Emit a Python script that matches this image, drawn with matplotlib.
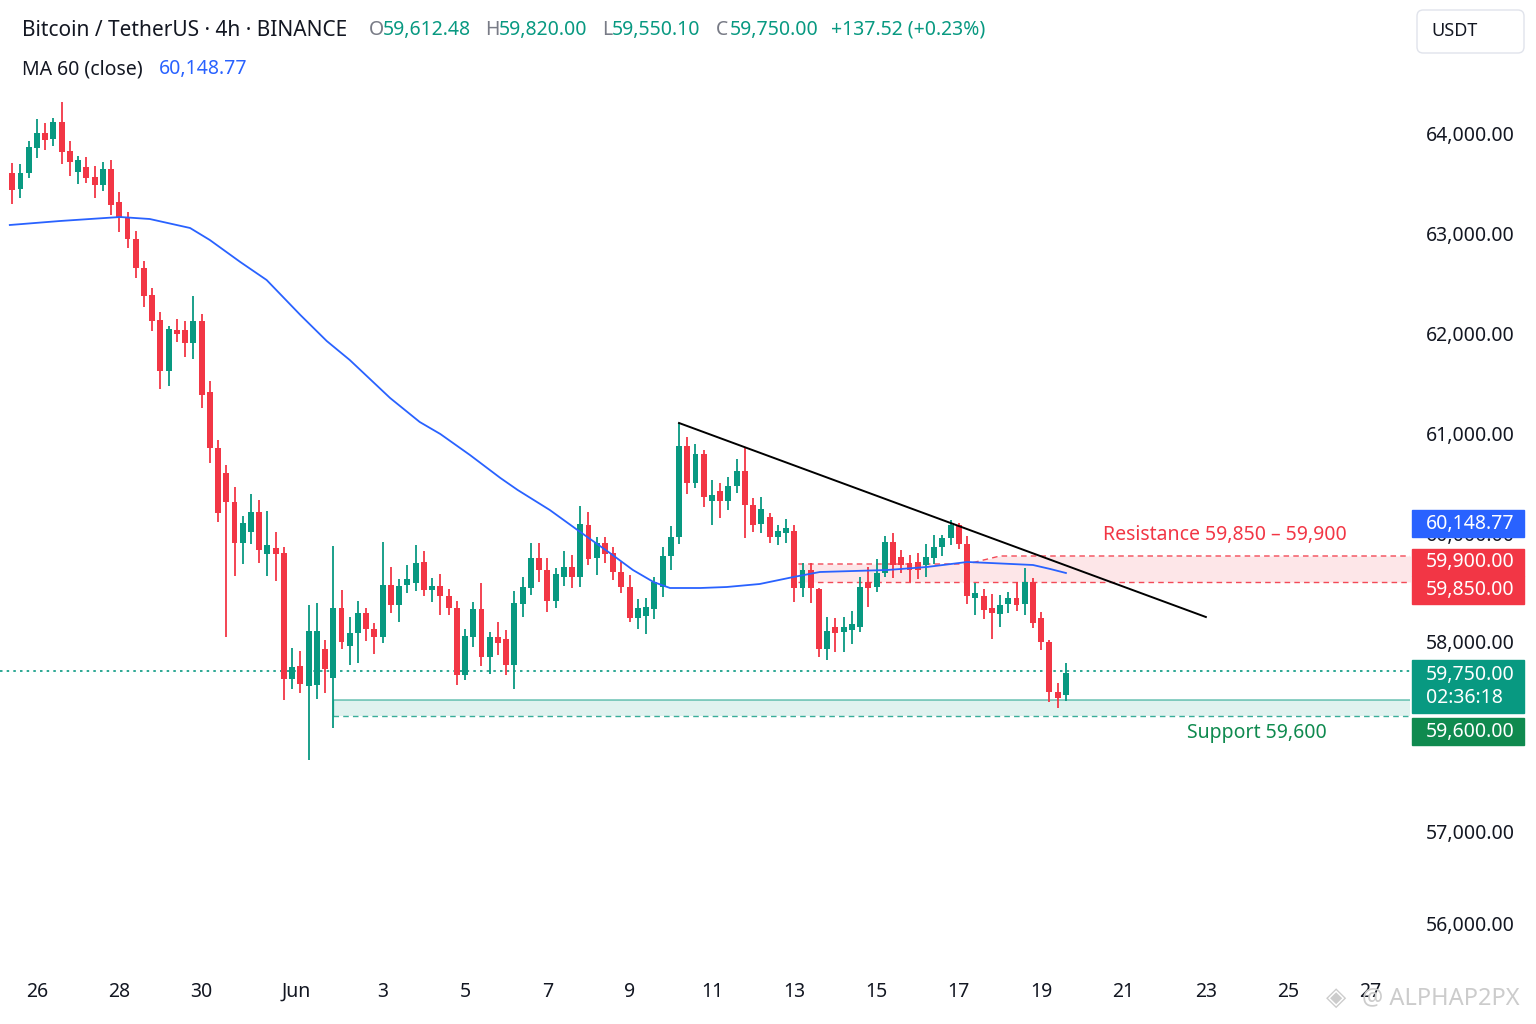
import matplotlib
matplotlib.use('Agg')
import matplotlib.pyplot as plt
from matplotlib.patches import Rectangle, FancyBboxPatch
import numpy as np

plt.rcParams['font.family'] = ['Noto Sans', 'DejaVu Sans']

# candles (4h)
opens = [63600, 63440, 63600, 63850, 64000, 63940, 64110, 63820, 63610, 63660,
         63560, 63480, 63640, 63310, 63150, 62940, 62650, 62380, 62130, 61620,
         62030, 62030, 61900, 62120, 61410, 60850, 60600, 60310, 59900, 60010,
         60210, 59790, 59850, 59800, 58540, 58670, 58470, 58480, 58840, 58550,
         59250, 58870, 59000, 59200, 59040, 58960, 59480, 59280, 59480, 59500,
         59710, 59430, 59470, 59370, 59250, 58580, 58960, 59240, 58760, 58960,
         58940, 58680, 59290, 59450, 59750, 59630, 59320, 59560, 59660, 59560,
         60080, 59750, 59900, 59800, 59610, 59460, 59150, 59170, 59240, 59460,
         59770, 59960, 60870, 60500, 60790, 60320, 60420, 60320, 60470, 60620,
         60280, 60090, 60160, 59960, 60000, 60020, 59450, 59630, 59440, 58840,
         59060, 59010, 59030, 59060, 59510, 59460, 59600, 59910, 59760, 59700,
         59710, 59680, 59750, 59860, 59950, 60080, 59890, 59350, 59370, 59250,
         59190, 59290, 59350, 59290, 59510, 59150, 58910, 58410, 58380]
highs = [63700, 63690, 63920, 64140, 64100, 64150, 64310, 63920, 63770, 63760,
         63670, 63710, 63730, 63410, 63210, 63020, 62720, 62450, 62210, 62070,
         62140, 62120, 62370, 62190, 61520, 60930, 60680, 60460, 60170, 60390,
         60330, 60220, 60010, 59860, 58850, 58820, 59280, 59300, 58930, 59870,
         59430, 59160, 59320, 59250, 59100, 59910, 59660, 59540, 59680, 59880,
         59820, 59550, 59590, 59440, 59320, 59040, 59310, 59500, 59010, 59110,
         59030, 59420, 59560, 59900, 59900, 59750, 59650, 59820, 59780, 60270,
         60210, 59960, 59960, 59860, 59710, 59580, 59340, 59350, 59560, 59860,
         60070, 61100, 60960, 60890, 60830, 60530, 60500, 60560, 60740, 60860,
         60350, 60360, 60200, 60080, 60140, 60080, 59700, 59700, 59450, 59160,
         59150, 59160, 59220, 59560, 59660, 59740, 59970, 60000, 59830, 59780,
         59800, 59890, 59980, 59980, 60130, 60100, 59970, 59500, 59440, 59390,
         59380, 59410, 59510, 59650, 59550, 59210, 58930, 58500, 58700]
lows = [63290, 63350, 63550, 63750, 63830, 63870, 63690, 63570, 63490, 63500,
        63350, 63420, 63180, 63010, 62850, 62550, 62260, 62020, 61440, 61470,
        61910, 61760, 61740, 61250, 60700, 60110, 58960, 59570, 59690, 59890,
        59700, 59570, 59520, 58330, 58440, 58400, 57730, 58340, 58400, 58050,
        58840, 58680, 58700, 58920, 58790, 58900, 59200, 59110, 59400, 59420,
        59370, 59310, 59180, 59180, 58480, 58530, 58860, 58670, 58590, 58780,
        58580, 58440, 59160, 59380, 59510, 59210, 59250, 59470, 59450, 59460,
        59680, 59580, 59700, 59530, 59400, 59110, 59040, 58990, 59140, 59360,
        59630, 59890, 60390, 60450, 60260, 60080, 60150, 60230, 60400, 59950,
        60010, 60000, 59900, 59880, 59900, 59310, 59360, 59300, 58760, 58730,
        58810, 58810, 58890, 59010, 59260, 59410, 59560, 59550, 59600, 59510,
        59540, 59560, 59690, 59770, 59880, 59840, 59290, 59180, 59140, 58940,
        59060, 59200, 59220, 59180, 59050, 58830, 58310, 58250, 58320]
closes = [63430, 63600, 63860, 64000, 63930, 64110, 63810, 63710, 63730, 63550,
          63480, 63640, 63280, 63150, 62940, 62650, 62370, 62120, 61620, 62040,
          61990, 61900, 62120, 61380, 60850, 60200, 60310, 59900, 60100, 60210,
          59830, 59880, 59790, 58540, 58660, 58490, 59020, 59020, 58640, 59250,
          58910, 59000, 59200, 59040, 58960, 59480, 59280, 59470, 59540, 59700,
          59430, 59470, 59370, 59250, 58580, 58970, 59240, 58760, 58960, 58900,
          58680, 59300, 59460, 59750, 59630, 59320, 59590, 59660, 59560, 60090,
          59740, 59900, 59790, 59610, 59460, 59150, 59250, 59260, 59510, 59770,
          59960, 60870, 60500, 60790, 60360, 60380, 60320, 60470, 60620, 60280,
          60080, 60240, 59960, 60020, 60050, 59450, 59630, 59450, 58840, 59020,
          59000, 59060, 59090, 59460, 59450, 59600, 59910, 59680, 59680, 59630,
          59630, 59760, 59860, 59950, 60080, 59890, 59370, 59400, 59230, 59200,
          59280, 59350, 59280, 59510, 59100, 58910, 58410, 58350, 58600]

# MA 60 line, points read at candle positions
ma_idx = [-0.3, 5.8, 13.1, 16.7, 21.6, 24.0, 27.7, 30.9, 35.0, 38.2, 41.0,
          45.9, 49.5, 52.0, 55.6, 59.3, 61.4, 65.3, 69.0, 72.6, 75.4, 77.9,
          79.9, 83.6, 86.8, 90.8, 94.9, 98.1, 106.3, 111.1, 116.0, 118.8,
          124.0, 126.1, 128.0]
ma_val = [63080, 63120, 63160, 63140, 63050, 62930, 62710, 62530, 62180, 61920,
          61730, 61350, 61110, 60990, 60780, 60550, 60430, 60230, 60010, 59800,
          59630, 59510, 59450, 59450, 59460, 59490, 59560, 59610, 59630, 59660,
          59710, 59700, 59680, 59640, 59600]

trend_idx = [81.0, 145.0]
trend_val = [61100, 59160]

date_labels = ['26', '28', '30', 'Jun', '3', '5', '7', '9', '11', '13', '15',
               '17', '19', '21', '23', '25', '27']
date_idx = [3, 13, 23, 34.5, 45, 55, 65, 75, 85, 95, 105, 115, 125, 135, 145,
            155, 165]

price_ticks = [64000, 63000, 62000, 61000, 60000, 58920, 57020, 56090]
price_tick_labels = ['64,000.00', '63,000.00', '62,000.00', '61,000.00',
                     '60,000.00', '58,000.00', '57,000.00', '56,000.00']

last_line = 58620
support_low, support_high = 58170, 58330
support_start = 39
res_low = 59510
res_x = [95.5, 116, 120, 170]
res_top = [59690, 59690, 59770, 59770]

GREEN = '#089981'
RED = '#F23645'
BLUE = '#2962FF'
DKGREEN = '#0f8a4f'
INK = '#131722'

fig = plt.figure(figsize=(15.36, 10.24), dpi=100)
ax = fig.add_axes([0, 54 / 1024, 1410 / 1536, 970 / 1024])
XMAX = 169.8
ax.set_xlim(-1.49, XMAX)
ax.set_ylim(55630, 65330)
for s in ax.spines.values():
    s.set_visible(False)

# zones
ax.fill_between([support_start, XMAX], support_low, support_high,
                color=GREEN, alpha=0.12, lw=0, zorder=1)
ax.hlines(support_high, support_start, XMAX, color=GREEN, alpha=0.55, lw=1.2, zorder=1)
ax.hlines(support_low, support_start, XMAX, color=GREEN, alpha=0.8, lw=1.0,
          linestyles=(0, (4, 3)), zorder=1)
ax.vlines(support_start, support_low, support_high, color=GREEN, alpha=0.55, lw=1.0)

ax.fill_between(res_x, res_low, res_top, color=RED, alpha=0.12, lw=0, zorder=1)
ax.plot(res_x, res_top, color=RED, lw=1.0, ls=(0, (4, 3)), alpha=0.9, zorder=1)
ax.hlines(res_low, res_x[0], XMAX, color=RED, lw=1.0, linestyles=(0, (4, 3)),
          alpha=0.9, zorder=1)

ax.axhline(last_line, color=GREEN, lw=1.2, ls=(0, (1.5, 2.5)), zorder=1)

# candles
x = np.arange(len(opens))
o = np.array(opens)
c = np.array(closes)
cols = np.where(c >= o, GREEN, RED)
ax.vlines(x, lows, highs, colors=cols, lw=1.3, zorder=3)
ax.bar(x, np.maximum(np.abs(c - o), 30), bottom=np.minimum(o, c), width=0.72,
       color=cols, zorder=3)

ax.plot(ma_idx, ma_val, color=BLUE, lw=1.3, zorder=4)
ax.plot(trend_idx, trend_val, color='black', lw=1.4, zorder=5)

ax.text(132.5, 59980, 'Resistance 59,850 – 59,900', color=RED, fontsize=14,
        va='center', ha='left', zorder=6)
ax.text(142.7, 58000, 'Support 59,600', color=DKGREEN, fontsize=14,
        va='center', ha='left', zorder=6)

# axes ticks
ax.set_xticks(date_idx)
ax.set_xticklabels(date_labels)
ax.yaxis.tick_right()
ax.set_yticks(price_ticks)
ax.set_yticklabels(price_tick_labels)
ax.tick_params(axis='y', length=0, pad=11.5, labelsize=14, labelcolor=INK)
ax.tick_params(axis='x', length=0, pad=8.5, labelsize=14, labelcolor=INK)

# price boxes on the scale
boxes = [('60,148.77', 60230, 59960, BLUE),
         ('59,900.00', 59840, 59570, RED),
         ('59,850.00', 59570, 59290, RED),
         ('59,750.00\n02:36:18', 58730, 58200, GREEN),
         ('59,600.00', 58150, 57880, DKGREEN)]
tr = ax.get_yaxis_transform()
for label, top, bot, col in boxes:
    ax.add_patch(Rectangle((1412 / 1410, bot), 112 / 1410, top - bot,
                           transform=tr, color=col, clip_on=False, zorder=7))
    ax.text(1426 / 1410, (top + bot) / 2, label, transform=tr, color='white',
            fontsize=14, va='center', ha='left', linespacing=1.25,
            clip_on=False, zorder=8)

# header
def ftext(px, py, s, **kw):
    fig.text(px / 1536, 1 - py / 1024, s, va='center', ha='left', **kw)

ftext(22, 30, 'Bitcoin / TetherUS · 4h · BINANCE', fontsize=15, color=INK)
for px, letter, val in [(369, 'O', '59,612.48'), (485, 'H', '59,820.00'),
                        (602, 'L', '59,550.10'), (716, 'C', '59,750.00')]:
    ftext(px, 30, letter, fontsize=14, color='#787b86')
    ftext(px + 14 if letter != 'L' else px + 10, 30, val, fontsize=14, color=GREEN)
ftext(831, 30, '+137.52 (+0.23%)', fontsize=14, color=GREEN)
ftext(22, 69, 'MA 60 (close)', fontsize=14, color=INK)
ftext(159, 69, '60,148.77', fontsize=14, color=BLUE)

fig.add_artist(FancyBboxPatch((1417 / 1536, 1 - 53 / 1024), 107 / 1536, 43 / 1024,
                              boxstyle='round,pad=0,rounding_size=0.004',
                              mutation_aspect=1.5, transform=fig.transFigure,
                              facecolor='white', edgecolor='#e0e3eb', lw=1))
ftext(1431, 31, 'USDT', fontsize=13, color=INK)

ftext(1326, 998, '◈', fontsize=19, color='#cccccc', family=['DejaVu Sans'])
ftext(1362, 998, '@ ALPHAP2PX', fontsize=17, color='#cccccc')

fig.savefig('out.png', dpi=100, facecolor='white')
